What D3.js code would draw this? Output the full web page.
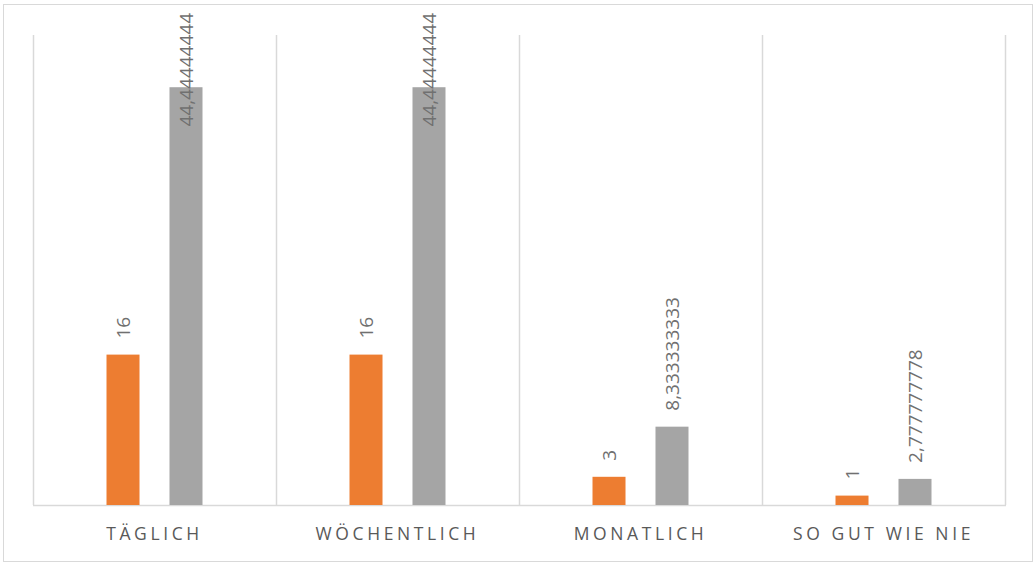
<!DOCTYPE html>
<html>
<head>
<meta charset="utf-8">
<script src="https://cdn.jsdelivr.net/npm/d3@7"></script>
<style>
  body { margin: 0; background: #fff; }
  svg { display: block; }
  text { font-family: "Open Sans", "Liberation Sans", sans-serif; fill: #595959; }
</style>
</head>
<body>
<div id="chart"></div>
<script>
// categories and series
var categories = ["TÄGLICH", "WÖCHENTLICH", "MONATLICH", "SO GUT WIE NIE"];
var seriesNames = ["Anzahl", "Prozent"];
var countValues = [16, 16, 3, 1];
var percentValues = [44.44444444, 44.44444444, 8.333333333, 2.777777778];
var percentLabels = ["44,44444444", "44,44444444", "8,333333333", "2,777777778"];
var colors = ["#ED7D31", "#A5A5A5"];

var width = 1036, height = 563;
var margin = { top: 35, right: 31, bottom: 58, left: 33 };
var innerW = width - margin.left - margin.right;
var innerH = height - margin.top - margin.bottom;

var svg = d3.select("#chart").append("svg")
  .attr("width", width)
  .attr("height", height);

// outer chart border
svg.append("rect")
  .attr("x", 3.5).attr("y", 4.5)
  .attr("width", 1029).attr("height", 557)
  .attr("fill", "none")
  .attr("stroke", "#D9D9D9")
  .attr("stroke-width", 1);

var g = svg.append("g").attr("transform", "translate(" + margin.left + "," + margin.top + ")");

var x0 = d3.scaleBand().domain(categories).range([0, innerW]).padding(0);
var x1 = d3.scaleBand().domain(seriesNames).range([0, x0.bandwidth()])
  .paddingInner(0.476).paddingOuter(1.167);
var y = d3.scaleLinear().domain([0, 50]).range([innerH, 0]);

// vertical category dividers
var dividers = [0].concat(categories.map(function(c) { return x0(c) + x0.bandwidth(); }));
g.selectAll("line.divider")
  .data(dividers)
  .enter().append("line")
  .attr("class", "divider")
  .attr("x1", function(d) { return d + 0.5; })
  .attr("x2", function(d) { return d + 0.5; })
  .attr("y1", 0)
  .attr("y2", innerH)
  .attr("stroke", "#D9D9D9")
  .attr("stroke-width", 1.5);

// baseline
g.append("line")
  .attr("x1", 0).attr("x2", innerW + 1)
  .attr("y1", innerH + 0.5).attr("y2", innerH + 0.5)
  .attr("stroke", "#D9D9D9")
  .attr("stroke-width", 1.5);

var rows = categories.map(function(c, i) {
  return { cat: c, values: [
    { s: seriesNames[0], v: countValues[i], label: String(countValues[i]), color: colors[0] },
    { s: seriesNames[1], v: percentValues[i], label: percentLabels[i], color: colors[1] }
  ]};
});

var groups = g.selectAll("g.cat")
  .data(rows)
  .enter().append("g")
  .attr("class", "cat")
  .attr("transform", function(d) { return "translate(" + x0(d.cat) + ",0)"; });

groups.selectAll("rect")
  .data(function(d) { return d.values; })
  .enter().append("rect")
  .attr("x", function(d) { return x1(d.s); })
  .attr("y", function(d) { return y(d.v); })
  .attr("width", x1.bandwidth())
  .attr("height", function(d) { return innerH - y(d.v); })
  .attr("fill", function(d) { return d.color; });

// data labels, rotated; pushed down when they would leave the chart top
groups.selectAll("text.lbl")
  .data(function(d) { return d.values; })
  .enter().append("text")
  .attr("class", "lbl")
  .style("font-size", "19px")
  .style("fill", "#707070")
  .attr("dy", "0.36em")
  .text(function(d) { return d.label; })
  .each(function(d) {
    var len = this.getComputedTextLength();
    var cx = x1(d.s) + x1.bandwidth() / 2;
    var yy = Math.max(y(d.v) - 16, 13 - margin.top + len);
    d3.select(this).attr("transform", "translate(" + cx + "," + yy + ") rotate(-90)");
  });

// category labels
g.selectAll("text.cat")
  .data(categories)
  .enter().append("text")
  .attr("class", "cat")
  .attr("x", function(d) { return x0(d) + x0.bandwidth() / 2; })
  .attr("y", innerH + 35)
  .attr("text-anchor", "middle")
  .style("font-size", "17.5px")
  .style("letter-spacing", "3.6px")
  .text(function(d) { return d; });
</script>
</body>
</html>
